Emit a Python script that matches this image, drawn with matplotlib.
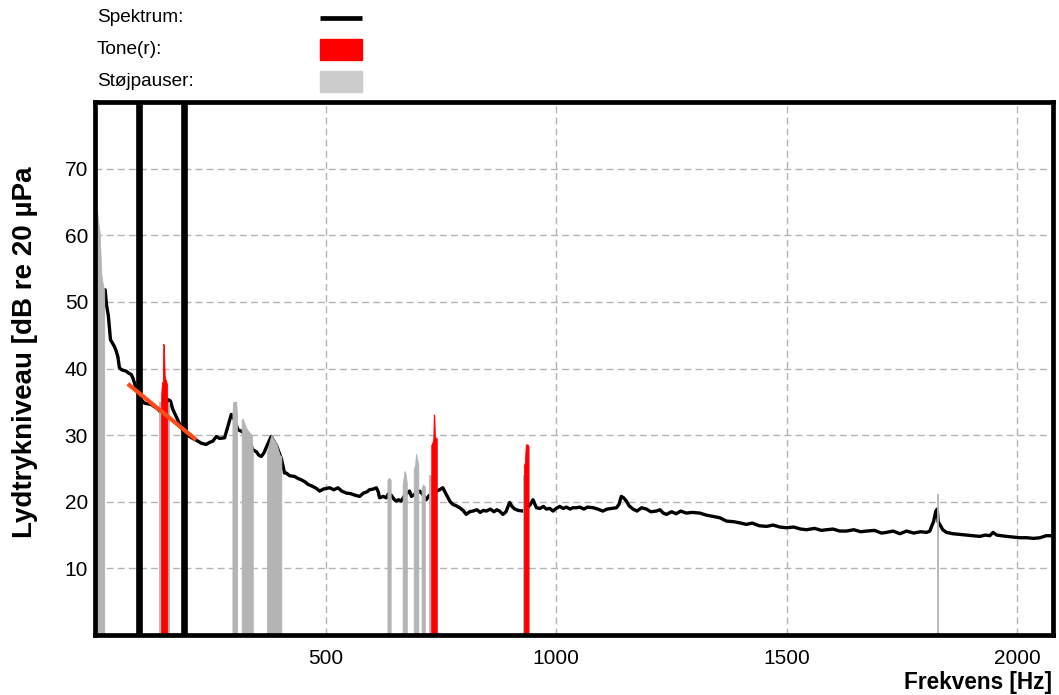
import numpy as np
import matplotlib
matplotlib.use("Agg")
import matplotlib.pyplot as plt
from matplotlib.lines import Line2D
from matplotlib.patches import Rectangle

plt.rcParams['font.family'] = ['Liberation Sans', 'DejaVu Sans']

# spectrum (Hz, dB)
spec_f = [20, 22, 25, 29, 33.6, 38, 42, 46, 49.5, 53, 58, 67.6, 73, 78.5, 82, 85.7, 90, 96.5,
          102, 107, 115, 122, 128, 133, 138, 143.6, 150, 154.4, 160, 163.8, 168, 172.5, 180, 187,
          192, 197.8, 205, 212, 223, 230, 241, 248, 255.5, 263, 270, 281, 288, 295.4, 302.6,
          309.8, 317, 325, 335, 342, 350, 355, 360.5, 366, 371, 382, 393, 400, 404, 408, 411,
          415, 422, 432.7, 440, 447, 455, 462, 472, 480, 487, 495, 508.6, 518, 526.7, 535, 545,
          555, 563, 573.7, 582, 590, 595, 603, 610, 614, 617, 625, 631.6, 636, 642, 648, 653,
          658, 664, 672, 682, 686, 695, 704, 712, 718, 724, 729, 735, 741, 747, 754, 760, 765,
          770, 776, 783, 790.6, 798, 805, 812, 819.5, 828, 835, 842, 848.5, 857, 865, 871, 877,
          884.5, 891, 899, 904, 910, 918, 928, 936, 944, 949.6, 957, 965, 972, 978.6, 986, 993,
          1000, 1007.5, 1015, 1022, 1030, 1036, 1044, 1051, 1060, 1068, 1080, 1090, 1101, 1110,
          1120, 1130.5, 1136, 1141, 1146, 1152, 1158, 1166.5, 1175, 1185, 1195.6, 1205, 1217,
          1225, 1232, 1239, 1250, 1260, 1270, 1282, 1295, 1311, 1325, 1340, 1354.5, 1369, 1385,
          1400, 1412, 1425, 1440, 1456, 1470, 1485, 1499, 1515, 1530, 1542.6, 1560, 1575, 1586,
          1600, 1615, 1629, 1645, 1660, 1673, 1690, 1705, 1716, 1730, 1745, 1759.5, 1775, 1790,
          1803, 1810, 1813.7, 1818, 1823, 1826, 1828, 1831.6, 1838, 1846, 1860, 1875, 1890, 1905,
          1918.5, 1930, 1940, 1947, 1955, 1965, 1976, 1990, 2005, 2020, 2035, 2049, 2062, 2075]
spec_db = [51.8, 51.8, 49.5, 47.9, 44.3, 43.8, 43.3, 42.6, 41.8, 40.1, 39.8, 39.6, 39.3, 39.1, 38.6,
           37.8, 36.8, 35.8, 35.2, 34.8, 34.7, 34.6, 34.3, 34.1, 33.8, 33.3, 34.0, 34.8, 35.3,
           35.1, 34.0, 33.3, 32.2, 31.1, 30.6, 30.3, 29.8, 29.5, 29.1, 28.8, 28.6, 28.9, 29.1,
           29.8, 29.5, 29.6, 31.3, 33.1, 32.3, 30.8, 30.6, 30.2, 29.0, 27.8, 27.5, 27.0, 26.8,
           27.3, 28.1, 29.8, 28.5, 27.2, 26.5, 25.2, 24.3, 24.3, 23.9, 23.8, 23.5, 23.3, 23.0,
           22.6, 22.3, 22.0, 21.6, 21.9, 22.1, 21.8, 22.1, 21.6, 21.3, 21.2, 21.0, 20.8, 21.3,
           21.5, 21.8, 21.9, 22.1, 21.5, 20.6, 20.8, 20.6, 21.2, 21.0, 20.4, 20.1, 20.3, 20.1,
           21.0, 21.6, 20.8, 21.2, 21.6, 21.0, 20.3, 20.9, 21.1, 21.5, 21.6, 21.8, 22.1, 21.3,
           20.6, 20.0, 19.6, 19.4, 19.1, 18.7, 18.1, 18.5, 18.6, 18.8, 18.4, 18.7, 18.6, 18.9,
           18.5, 18.8, 18.6, 18.1, 18.5, 19.9, 19.3, 18.9, 18.7, 18.6, 19.0, 19.6, 20.3, 19.1,
           19.0, 19.3, 18.9, 19.0, 18.6, 19.0, 19.3, 19.0, 19.2, 18.9, 19.1, 19.1, 19.2, 18.9,
           19.2, 19.1, 18.9, 18.6, 18.9, 19.0, 19.1, 19.6, 20.8, 20.6, 20.1, 19.4, 18.9, 18.6,
           19.1, 18.9, 18.5, 18.6, 18.8, 18.3, 18.1, 18.5, 18.2, 18.6, 18.3, 18.4, 18.3, 18.0,
           17.8, 17.6, 17.1, 17.0, 16.8, 16.6, 16.8, 16.4, 16.3, 16.5, 16.2, 16.1, 16.2, 15.9,
           15.8, 16.0, 15.7, 15.8, 15.9, 15.6, 15.6, 15.8, 15.5, 15.6, 15.7, 15.3, 15.4, 15.6,
           15.2, 15.6, 15.3, 15.5, 15.4, 15.6, 16.3, 17.0, 18.6, 18.9, 17.0, 16.6, 15.8, 15.4,
           15.2, 15.1, 15.0, 14.9, 14.8, 15.0, 14.9, 15.4, 15.0, 14.9, 14.8, 14.7, 14.6, 14.6,
           14.5, 14.6, 14.9, 14.9]

# noise pauses (grey)
pause_f = [
    [0, 2, 4, 6, 8, 10, 12, 14, 16, 18, 20],
    [138.5, 143.5],
    [156.5, 160],
    [298, 300, 306, 308],
    [318, 320, 325, 330, 335, 340, 342],
    [373, 374, 382, 393, 400, 404],
    [634, 637, 641],
    [667, 671, 673, 676],
    [691, 694, 696, 698, 701],
    [708, 711, 715],
    [725, 729],
    [927, 930],
    [1825.5, 1828],
]
pause_db = [
    [63, 64.5, 64, 62.5, 61.5, 60.5, 57, 54, 53, 52.3, 51.8],
    [35, 35],
    [35, 35],
    [33.5, 35, 35, 33],
    [32.3, 32.5, 31.5, 30.8, 30.4, 30, 27.5],
    [27.5, 27.8, 30, 28.8, 27.1, 26.8],
    [23.2, 23.6, 23.3],
    [22.5, 24.6, 24.3, 22.8],
    [24.9, 25.5, 27.2, 26.5, 25.5],
    [22.0, 22.6, 22.3],
    [24.0, 24.0],
    [24.0, 24.0],
    [21.1, 21.1],
]

# tones (red)
tone_f = [
    [143.5, 145, 147, 148, 149.5, 151, 152, 154, 156.5],
    [729, 732, 733.5, 734.5, 735.5, 737, 739, 741],
    [930, 932, 934, 936, 938, 940],
]
tone_db = [
    [36, 37.9, 38, 43.7, 43.5, 39, 38.5, 38.2, 37.5],
    [28.5, 29, 29.5, 33.1, 33.1, 29.8, 29.6, 29.5],
    [25.5, 25.9, 28.6, 28.6, 28.6, 28.3],
]

band_limits = [96, 192]
trend_f = [71, 219.5]
trend_db = [37.7, 29.3]

fig = plt.figure(figsize=(10.59, 6.95), dpi=100)
ax = fig.add_axes([95/1059, 60/695, 958/1059, 533/695])

ax.plot(spec_f, spec_db, color='black', lw=2.4, zorder=3)

for f, d in zip(pause_f, pause_db):
    ax.fill_between(f, 0, d, color='#b4b4b4', lw=0.6, edgecolor='#b4b4b4', zorder=4)
for f, d in zip(tone_f, tone_db):
    ax.fill_between(f, 0, d, color='#ff0000', lw=0.6, edgecolor='#ff0000', zorder=5)

for b in band_limits:
    ax.axvline(b, color='black', lw=4.8, zorder=6)
ax.plot(trend_f, trend_db, color='#ff4a1a', lw=3, zorder=7, solid_capstyle='butt')

ax.set_xlim(0, 2077)
ax.set_ylim(0, 80)
ax.set_xticks([500, 1000, 1500, 2000])
ax.set_yticks([10, 20, 30, 40, 50, 60, 70])
ax.tick_params(length=0, labelsize=15)
ax.tick_params(axis='x', pad=10)
ax.tick_params(axis='y', pad=5)
ax.grid(True, color='#b4b4b4', lw=1.0, linestyle=(0, (5, 3)), zorder=0)
ax.set_axisbelow(True)
for s in ax.spines.values():
    s.set_linewidth(3.4)
    s.set_zorder(8)

fig.text(1052/1059, 1 - 682/695, 'Frekvens [Hz]', ha='right', va='center',
         fontsize=16.3, fontweight='bold')
fig.text(25/1059, 1 - 352/695, 'Lydtrykniveau [dB re 20 µPa', ha='center', va='center',
         rotation=90, fontsize=20, fontweight='bold')

# legend
labels = ['Spektrum:', 'Tone(r):', 'Støjpauser:']
ys = [18, 50, 82]
for lab, y in zip(labels, ys):
    fig.text(97/1059, 1 - y/695, lab, ha='left', va='center', fontsize=13.7)
fig.add_artist(Line2D([320/1059, 362/1059], [1 - 18/695, 1 - 18/695], color='black', lw=3.4,
                      transform=fig.transFigure, solid_capstyle='butt'))
fig.add_artist(Rectangle((320/1059, 1 - 60/695), 42/1059, 21/695, color='#ff0000',
                         transform=fig.transFigure))
fig.add_artist(Rectangle((320/1059, 1 - 92/695), 42/1059, 21/695, color='#cccccc',
                         transform=fig.transFigure))

fig.savefig('out.png', dpi=100)
